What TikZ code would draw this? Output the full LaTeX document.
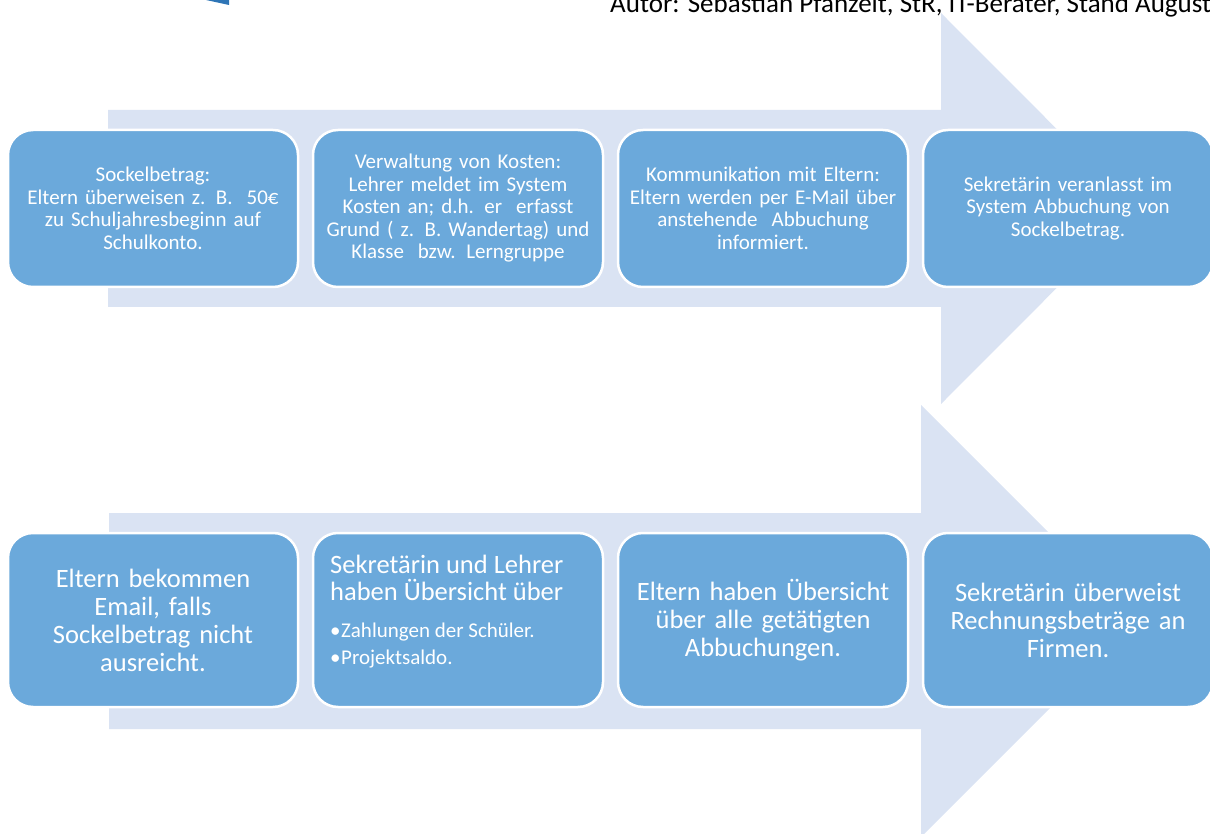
\documentclass[tikz,border=0pt]{standalone}
\usepackage{fontspec}
\setmainfont{Carlito}
\definecolor{boxblue}{RGB}{107,169,219}
\definecolor{arrowbg}{RGB}{218,227,243}
\definecolor{darkblue}{RGB}{46,117,182}
\begin{document}
\begin{tikzpicture}[x=1pt,y=-1pt,
  stepbox/.style={draw=white, line width=2.5pt, fill=boxblue, rounded corners=25pt,
    text=white, align=center, inner sep=0pt, minimum width=290pt},
  toprow/.style={stepbox, minimum height=157pt, text width=270pt,
    font=\fontsize{21}{22.5}\selectfont},
  botrow/.style={stepbox, minimum height=174pt, text width=260pt,
    font=\fontsize{26.5}{28}\selectfont},
  bigarrow/.style={fill=arrowbg, draw=none}]
\useasboundingbox (0,0) rectangle (1210,834);
\clip (0,0) rectangle (1210,834);
% header
\node[anchor=base west, inner sep=0pt, font=\fontsize{27}{30}\selectfont] (autor) at (610,13)
  {Autor: Sebastian Pfanzelt, StR, IT-Berater, Stand August};
\fill[darkblue] (206,0) -- (229,0) -- (229,5) -- cycle;
% arrows
\fill[bigarrow] (108,110) -- (941,110) -- (941,13) -- (1136,208.5) -- (941,404) -- (941,307) -- (108,307) -- cycle;
\fill[bigarrow] (109,513) -- (921,513) -- (921,405) -- (1137,621) -- (921,837) -- (921,729) -- (109,729) -- cycle;
% top row
\node[toprow] (t1) at (153,208.5) {Sockelbetrag:\\Eltern überweisen z. B.~ 50€\\zu Schuljahresbeginn auf\\Schulkonto.};
\node[toprow] (t2) at (458,208.5) {Verwaltung von Kosten:\\Lehrer meldet im System\\Kosten an; d.h. er~ erfasst\\Grund ( z. B. Wandertag) und\\Klasse~ bzw. Lerngruppe};
\node[toprow] (t3) at (763,208.5) {Kommunikation mit Eltern:\\Eltern werden per E-Mail über\\anstehende~ Abbuchung\\informiert.};
\node[toprow] (t4) at (1068,208.5) {Sekretärin veranlasst im\\System Abbuchung von\\Sockelbetrag.};
% bottom row
\node[botrow] (b1) at (153,620) {Eltern bekommen\\Email, falls\\Sockelbetrag nicht\\ausreicht.};
\node[botrow] (b2) at (458,620) {};
\node[anchor=north west, inner sep=0pt, text=white, align=left, font=\fontsize{26.5}{27}\selectfont] (b2t) at (330,555)
  {Sekretärin und Lehrer\\haben Übersicht über\\[10pt]
   {\fontsize{21}{26}\selectfont\makebox[11pt][l]{•}Zahlungen der Schüler.}\\
   {\fontsize{21}{26}\selectfont\makebox[11pt][l]{•}Projektsaldo.}};
\node[botrow] (b3) at (763,620) {Eltern haben Übersicht\\über alle getätigten\\Abbuchungen.};
\node[botrow] (b4) at (1068,620) {Sekretärin überweist\\Rechnungsbeträge an\\Firmen.};
\end{tikzpicture}
\end{document}
